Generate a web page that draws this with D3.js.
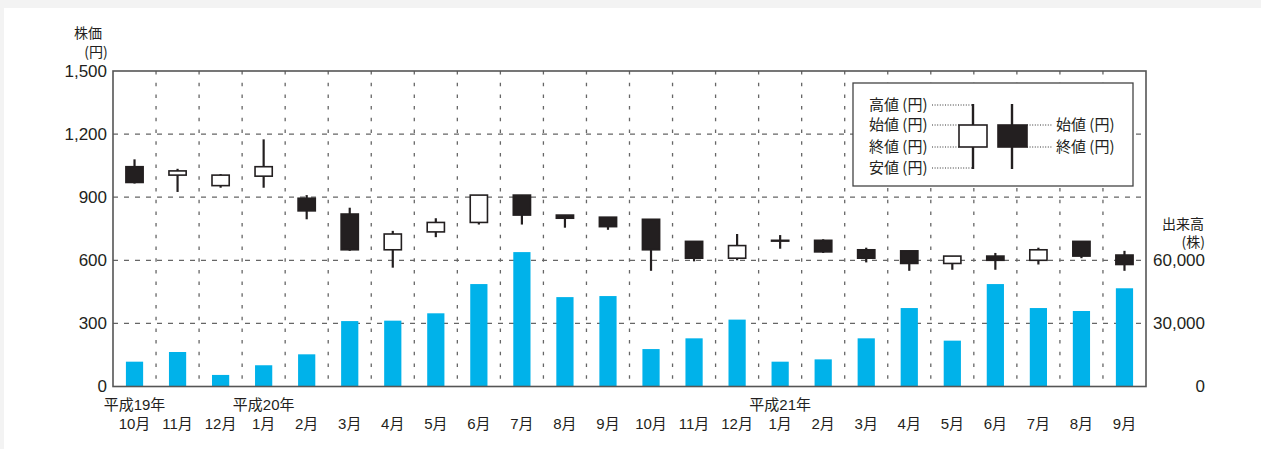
<!DOCTYPE html>
<html>
<head>
<meta charset="utf-8">
<script src="https://d3js.org/d3.v7.min.js"></script>
<style>
  body { margin: 0; background: #f3f3f3; }
  text { font-family: "Liberation Sans", "Noto Sans CJK JP", sans-serif; fill: #231f20; }
  .jp { font-family: "Noto Sans CJK JP", sans-serif; }
</style>
</head>
<body>
<svg id="chart" width="1261" height="449"></svg>
<script>
// 月ラベル（平成19年10月〜平成21年9月）
const months = ['10月','11月','12月','1月','2月','3月','4月','5月','6月','7月','8月','9月',
                '10月','11月','12月','1月','2月','3月','4月','5月','6月','7月','8月','9月'];
const eraLabels = [[0, '平成19年'], [3, '平成20年'], [15, '平成21年']];

// 株価（円）
const openP  = [1045,1005, 955,1000, 895, 820, 650, 735, 780, 910, 815, 805, 795, 690, 610, 695, 695, 650, 645, 585, 620, 600, 690, 625];
const highP  = [1080,1035,1010,1175, 910, 850, 740, 800, 910, 910, 815, 805, 795, 690, 725, 720, 700, 660, 645, 620, 635, 660, 690, 645];
const lowP   = [ 965, 925, 945, 945, 795, 645, 565, 710, 770, 770, 755, 745, 550, 595, 600, 655, 635, 590, 550, 555, 555, 580, 610, 550];
const closeP = [ 970,1025,1005,1045, 835, 650, 725, 780, 910, 815, 800, 760, 650, 610, 670, 695, 640, 610, 585, 620, 600, 650, 620, 580];

// 出来高（株）
const volume = [11800,16400,5500,10100,15300,31100,31300,34800,48700,63900,42500,43000,
                17800,22900,31800,11800,12900,22900,37300,21800,48700,37300,35900,46700];

const priceTicks = [0, 300, 600, 900, 1200, 1500];
const volTicks = [0, 30000, 60000];

const svg = d3.select('#chart');
const W = 1261, H = 449;
const m = {left: 113, right: 1146, top: 71, bottom: 386.5};

svg.append('rect').attr('x', 4).attr('y', 8).attr('width', W - 4).attr('height', H - 8).attr('fill', '#fff');

const idx = d3.range(months.length);
const x = d3.scaleBand().domain(idx).range([m.left, m.right]).paddingInner(0.6).paddingOuter(0.3);
const y = d3.scaleLinear().domain([0, 1500]).range([m.bottom, m.top]);
const yVol = d3.scaleLinear().domain([0, 150000]).range([m.bottom, m.top]);
const half = x.step() * x.paddingInner() / 2;

// グリッド
const grid = svg.append('g');
grid.selectAll('.vg').data(idx.slice(1)).enter().append('line')
  .attr('x1', d => x(d) - half).attr('x2', d => x(d) - half)
  .attr('y1', m.top).attr('y2', m.bottom)
  .attr('stroke', '#666').attr('stroke-width', 1.3).attr('stroke-dasharray', '3.5,8.2');
grid.selectAll('.hg').data(priceTicks.slice(1, -1)).enter().append('line')
  .attr('x1', m.left).attr('x2', m.right)
  .attr('y1', d => y(d)).attr('y2', d => y(d))
  .attr('stroke', '#666').attr('stroke-width', 1.3).attr('stroke-dasharray', '5,6');

// 出来高バー
svg.append('g').selectAll('rect').data(volume).enter().append('rect')
  .attr('x', (d, i) => x(i)).attr('width', x.bandwidth())
  .attr('y', d => yVol(d)).attr('height', d => m.bottom - yVol(d))
  .attr('fill', '#00b2ea');

// ローソク足
const candles = svg.append('g').selectAll('g').data(idx).enter().append('g');
candles.append('line')
  .attr('x1', i => x(i) + x.bandwidth() / 2).attr('x2', i => x(i) + x.bandwidth() / 2)
  .attr('y1', i => y(highP[i])).attr('y2', i => y(lowP[i]))
  .attr('stroke', '#231f20').attr('stroke-width', 2.2);
candles.append('rect')
  .attr('x', i => x(i)).attr('width', x.bandwidth())
  .attr('y', i => y(Math.max(openP[i], closeP[i])))
  .attr('height', i => Math.max(Math.abs(y(openP[i]) - y(closeP[i])), 0.8))
  .attr('fill', i => closeP[i] >= openP[i] ? '#fff' : '#231f20')
  .attr('stroke', '#231f20').attr('stroke-width', 1.6);

// 枠
svg.append('rect').attr('x', m.left).attr('y', m.top)
  .attr('width', m.right - m.left).attr('height', m.bottom - m.top)
  .attr('fill', 'none').attr('stroke', '#555').attr('stroke-width', 1.6);

// 軸
const yAxis = svg.append('g').attr('transform', `translate(${m.left},0)`)
  .call(d3.axisLeft(y).tickValues(priceTicks).tickFormat(d3.format(',')).tickSize(0).tickPadding(6));
yAxis.select('.domain').remove();
yAxis.selectAll('text').attr('font-size', 17).attr('font-family', '"Liberation Sans", sans-serif').attr('fill', '#231f20');

const vAxis = svg.append('g').attr('transform', `translate(${m.right},0)`)
  .call(d3.axisRight(yVol).tickValues(volTicks).tickFormat(d3.format(',')).tickSize(0));
vAxis.select('.domain').remove();
vAxis.selectAll('text').attr('font-size', 17).attr('font-family', '"Liberation Sans", sans-serif')
  .attr('fill', '#231f20').attr('text-anchor', 'end').attr('x', 59);

// 軸タイトル
svg.append('text').attr('x', 88).attr('y', 33).attr('dy', '0.35em').attr('text-anchor', 'middle')
  .attr('font-size', 14).attr('class', 'jp').text('株価');
svg.append('text').attr('x', 96).attr('y', 52).attr('dy', '0.35em').attr('text-anchor', 'middle')
  .attr('font-size', 14).attr('class', 'jp').text('(円)');
svg.append('text').attr('x', 1204).attr('y', 224).attr('dy', '0.35em').attr('text-anchor', 'end')
  .attr('font-size', 14).attr('class', 'jp').text('出来高');
svg.append('text').attr('x', 1205).attr('y', 242).attr('dy', '0.35em').attr('text-anchor', 'end')
  .attr('font-size', 14).attr('class', 'jp').text('(株)');

// X軸ラベル
svg.append('g').selectAll('text').data(months).enter().append('text')
  .attr('x', (d, i) => x(i) + x.bandwidth() / 2).attr('y', 424).attr('dy', '0.35em')
  .attr('text-anchor', 'middle').attr('font-size', 15).text(d => d);
svg.append('g').selectAll('text').data(eraLabels).enter().append('text')
  .attr('x', d => x(d[0]) + x.bandwidth() / 2).attr('y', 405).attr('dy', '0.35em')
  .attr('text-anchor', 'middle').attr('font-size', 15).text(d => d[1]);

// 凡例
const lg = svg.append('g').attr('transform', 'translate(853,83)');
lg.append('rect').attr('width', 280).attr('height', 103).attr('fill', '#fff')
  .attr('stroke', '#444').attr('stroke-width', 1.3);
const leftRows = [['高値 (円)', 22, 120], ['始値 (円)', 42, 106], ['終値 (円)', 64, 106], ['安値 (円)', 85, 120]];
const rightRows = [['始値 (円)', 42], ['終値 (円)', 64]];
const dotted = {stroke: '#333', 'stroke-width': 1, 'stroke-dasharray': '1,1.6'};
leftRows.forEach(([t, ry, end]) => {
  lg.append('text').attr('x', 16).attr('y', ry).attr('dy', '0.35em').attr('font-size', 15)
    .attr('class', 'jp').text(t);
  const l = lg.append('line').attr('x1', 79).attr('x2', end).attr('y1', ry).attr('y2', ry);
  Object.entries(dotted).forEach(([k, v]) => l.attr(k, v));
});
rightRows.forEach(([t, ry]) => {
  lg.append('text').attr('x', 203).attr('y', ry).attr('dy', '0.35em').attr('font-size', 15)
    .attr('class', 'jp').text(t);
  const l = lg.append('line').attr('x1', 174).attr('x2', 200).attr('y1', ry).attr('y2', ry);
  Object.entries(dotted).forEach(([k, v]) => l.attr(k, v));
});
lg.append('line').attr('x1', 120).attr('x2', 120).attr('y1', 21).attr('y2', 86)
  .attr('stroke', '#231f20').attr('stroke-width', 2.4);
lg.append('rect').attr('x', 106).attr('y', 42).attr('width', 28).attr('height', 22)
  .attr('fill', '#fff').attr('stroke', '#231f20').attr('stroke-width', 1.6);
lg.append('line').attr('x1', 159).attr('x2', 159).attr('y1', 21).attr('y2', 86)
  .attr('stroke', '#231f20').attr('stroke-width', 2.4);
lg.append('rect').attr('x', 145).attr('y', 42).attr('width', 29).attr('height', 22)
  .attr('fill', '#231f20').attr('stroke', '#231f20').attr('stroke-width', 1.6);
</script>
</body>
</html>
